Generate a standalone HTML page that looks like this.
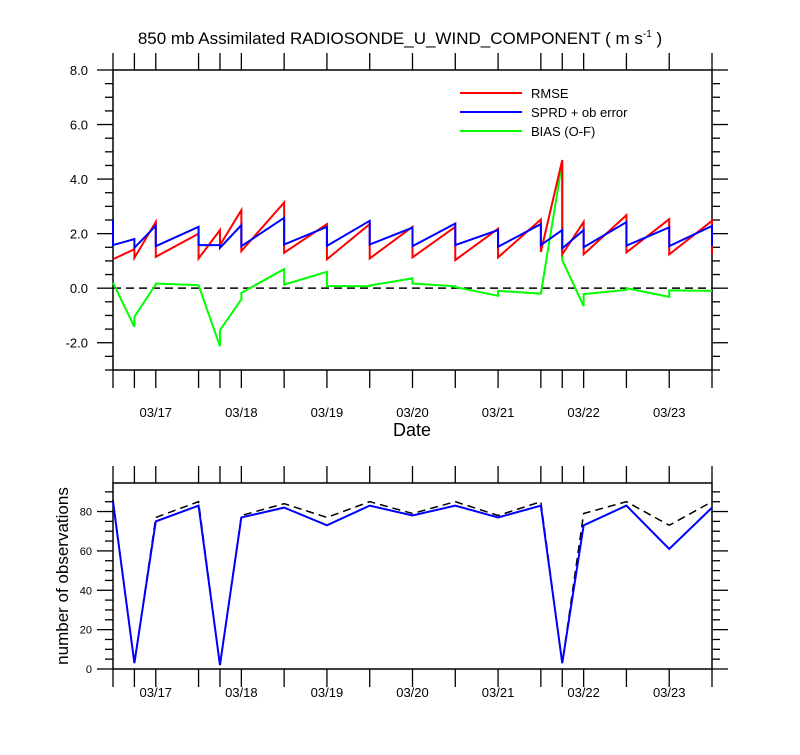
<!DOCTYPE html>
<html><head><meta charset="utf-8"><style>
body{margin:0;background:#fff}
svg text{font-family:"Liberation Sans",sans-serif;fill:#000}
</style></head><body>
<svg id="c" width="800" height="750" xmlns="http://www.w3.org/2000/svg">
<text x="400" y="44" font-size="17" text-anchor="middle">850 mb Assimilated RADIOSONDE_U_WIND_COMPONENT ( m s<tspan dy="-7" font-size="10">-1</tspan><tspan dy="7"> )</tspan></text>
<text x="412" y="436" font-size="18" text-anchor="middle">Date</text>
<text transform="translate(68,576) rotate(-90)" font-size="17" text-anchor="middle">number of observations</text>
<g>
<line x1="460" y1="93" x2="522" y2="93" stroke="#f00" stroke-width="2"/>
<text x="531" y="98" font-size="13">RMSE</text>
<line x1="460" y1="112" x2="522" y2="112" stroke="#00f" stroke-width="2"/>
<text x="531" y="117" font-size="13">SPRD + ob error</text>
<line x1="460" y1="131" x2="522" y2="131" stroke="#0f0" stroke-width="2"/>
<text x="531" y="136" font-size="13">BIAS (O-F)</text>
</g>
</svg>
<script>
// hours from 03/16 12Z
const times=[0,6,12,24,30,36,48,60,72,84,96,108,120,126,132,144,156,168];
const rmseHi=[1.06,1.43,2.43,2.0,2.13,2.86,3.14,2.35,2.35,2.25,2.25,2.18,2.52,4.7,2.43,2.68,2.53,2.47];
const rmseLo=[1.06,1.11,1.15,1.09,1.58,1.36,1.3,1.06,1.09,1.13,1.03,1.13,1.33,1.24,1.24,1.31,1.24,1.24];
const sprdHi=[2.5,1.8,2.29,2.25,1.58,2.31,2.58,2.25,2.47,2.22,2.37,2.13,2.35,2.13,2.13,2.42,2.23,2.28];
const sprdLo=[1.58,1.48,1.54,1.58,1.48,1.54,1.6,1.55,1.6,1.54,1.58,1.52,1.58,1.46,1.5,1.56,1.54,1.54];
const biasHi=[0.2,-1.42,0.14,0.11,-2.13,-0.41,0.7,0.6,0.07,0.36,0.07,-0.28,-0.2,4.63,-0.66,-0.06,-0.32,-0.1];
const biasLo=[0.2,-1.05,0.17,0.11,-1.54,-0.17,0.13,0.08,0.1,0.17,0.04,-0.1,-0.2,1.03,-0.22,0.0,-0.08,-0.1];
const countUsed=[85,3,75,83,2,77,82,73,83,78,83,77,83,3,73,83,61,82];
const countTotal=[86,3,77,85,2,78,84,77,85,79,85,78,85,3,79,85,73,85];
const dateLabels=["03/17","03/18","03/19","03/20","03/21","03/22","03/23"];
const yTicksTop=["-2.0","0.0","2.0","4.0","6.0","8.0"];
const yTicksBot=[0,20,40,60,80];

const svg=document.getElementById('c');
const NS='http://www.w3.org/2000/svg';
const L=113,R=712;
const x=h=>L+(R-L)*h/168;
const T1=70,B1=370,ymin1=-3,ymax1=8;
const y1=v=>B1-(v-ymin1)/(ymax1-ymin1)*(B1-T1);
const T2=483,B2=669,ymax2=94.5;
const y2=v=>B2-v/ymax2*(B2-T2);
function el(t,a,p){const e=document.createElementNS(NS,t);for(const k in a)e.setAttribute(k,a[k]);(p||svg).appendChild(e);return e;}
function ln(x1,y1_,x2,y2_,w){return el('line',{x1:x1,y1:y1_,x2:x2,y2:y2_,stroke:'#000','stroke-width':w||1.3});}

// frames
let f1=el('rect',{x:L,y:T1,width:R-L,height:B1-T1,fill:'none',stroke:'#000','stroke-width':1.5});


let f2=el('rect',{x:L,y:T2,width:R-L,height:B2-T2,fill:'none',stroke:'#000','stroke-width':1.5});



// x ticks at observation times
times.forEach(h=>{const X=x(h);ln(X,T1,X,T1-17);ln(X,B1,X,B1+18);ln(X,T2,X,T2-17);ln(X,B2,X,B2+18);});
dateLabels.forEach((d,i)=>{const X=x(12+24*i);
 let t=el('text',{x:X,y:417,'font-size':13,'text-anchor':'middle'});t.textContent=d;
 
 
 let t2=el('text',{x:X,y:697,'font-size':13,'text-anchor':'middle'});t2.textContent=d;
 
 });

// top y ticks
for(let v=-3;v<=8.001;v+=0.5){const Y=y1(v);const major=Math.abs(v/2-Math.round(v/2))<1e-6;const len=major?16:8;ln(L,Y,L-len,Y);ln(R,Y,R+len,Y);}
yTicksTop.forEach(s=>{const v=parseFloat(s);let t=el('text',{x:88,y:y1(v)+5,'font-size':13,'text-anchor':'end'});t.textContent=s;
 
 });
// zero line
let z=el('line',{x1:L,y1:y1(0),x2:R,y2:y1(0),stroke:'#000','stroke-width':1.5,'stroke-dasharray':'8,5'});



function saw(hi,lo,color,name){let pts=[];times.forEach((h,i)=>{pts.push(x(h)+','+y1(hi[i]));pts.push(x(h)+','+y1(lo[i]));});
 let p=el('polyline',{points:pts.join(' '),fill:'none',stroke:color,'stroke-width':2});
 
 }
saw(biasHi,biasLo,'#0f0','bias-line');
saw(rmseHi,rmseLo,'#f00','rmse-line');
saw(sprdHi,sprdLo,'#00f','sprd-line');

// bottom y ticks
for(let v=0;v<=ymax2;v+=5){const Y=y2(v);const major=v%20===0;const len=major?16:8;ln(L,Y,L-len,Y);ln(R,Y,R+len,Y);}
yTicksBot.forEach(v=>{let t=el('text',{x:92,y:y2(v)+4,'font-size':11,'text-anchor':'end'});t.textContent=v;
 
 });
let pt=el('polyline',{points:times.map((h,i)=>x(h)+','+y2(countTotal[i])).join(' '),fill:'none',stroke:'#000','stroke-width':1.5,'stroke-dasharray':'8,5'});


let pu=el('polyline',{points:times.map((h,i)=>x(h)+','+y2(countUsed[i])).join(' '),fill:'none',stroke:'#00f','stroke-width':2});


</script>
</body></html>
